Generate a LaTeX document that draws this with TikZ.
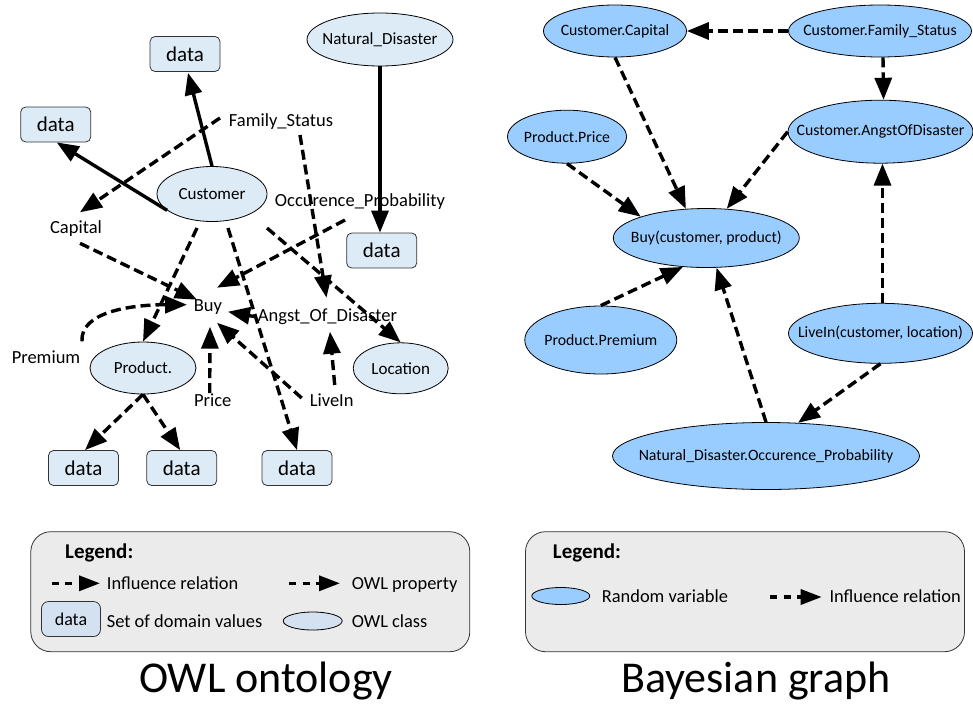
\documentclass[tikz,border=0pt]{standalone}
\usepackage{fontspec}
\setmainfont{Carlito}
\usetikzlibrary{arrows.meta,shapes.geometric,calc}
\definecolor{lblue}{HTML}{DDEBF7}
\definecolor{rblue}{HTML}{99CCFF}
\definecolor{leggray}{HTML}{EBEBEB}
\definecolor{legblue}{HTML}{D3E1F1}
\newcommand\mkzw[1]{\makebox[0pt]{#1}}
\tikzset{
 lbl/.style={anchor=base, inner sep=0pt, font=\fontsize{18.5}{20}\selectfont},
 cls/.style={ellipse, draw=black, line width=0.8pt, fill=lblue, inner sep=0pt, font=\fontsize{17}{19}\selectfont},
 databox/.style={rectangle, rounded corners=5pt, draw=black!80, line width=0.8pt, fill=lblue, minimum width=70pt, minimum height=35pt, inner sep=0pt, font=\fontsize{21}{24}\selectfont},
 rv/.style={ellipse, draw=black, line width=0.8pt, fill=rblue, inner sep=0pt, font=\fontsize{15.8}{18}\selectfont},
 solidarr/.style={line width=3.4pt, -{Triangle[length=22pt,width=17pt]}},
 dasharr/.style={line width=3.4pt, dash pattern=on 10pt off 5pt, -{Triangle[length=22pt,width=17pt]}},
 legarr/.style={line width=3.4pt, dash pattern=on 7pt off 6.5pt, -{Triangle[length=21pt,width=15pt]}},
 legbox/.style={rectangle, rounded corners=20pt, draw=black!80, line width=0.8pt, fill=leggray, minimum width=439pt, minimum height=120pt, inner sep=0pt},
 legtxt/.style={anchor=base west, inner sep=0pt, font=\fontsize{18.4}{20}\selectfont},
 legbold/.style={anchor=base west, inner sep=0pt, font=\fontsize{21}{24}\selectfont\bfseries},
 titletxt/.style={anchor=base, inner sep=0pt, font=\fontsize{44}{50}\selectfont},
}
\begin{document}
\begin{tikzpicture}[x=1pt,y=-1pt]
\useasboundingbox (0,0) rectangle (973,707);

% ---------------- Left: OWL ontology ----------------
\node[databox] (d1) at (185,54) {data};
\node[databox] (d2) at (55.7,124.5) {data};
\node[cls, minimum width=146pt, minimum height=53pt] (nd) at (380,39.5) {\mkzw{Natural\_Disaster}};
\node[cls, minimum width=110pt, minimum height=55pt] (c) at (212,194) {\mkzw{Customer}};
\node[databox] (d3) at (381.7,250.5) {data};
\node[cls, minimum width=106pt, minimum height=52pt] (prod) at (143,368) {\mkzw{Product.}};
\node[cls, minimum width=95pt, minimum height=51pt] (loc) at (400.7,368.3) {\mkzw{Location}};
\node[databox] (d4) at (83.5,468) {data};
\node[databox] (d5) at (181.7,468) {data};
\node[databox] (d6) at (297,468) {data};

\node[lbl] (fs) at (281,126) {Family\_Status};
\node[lbl] (cap) at (76,233.3) {Capital};
\node[lbl] (occ) at (360,206) {Occurence\_Probability};
\node[lbl] (buy) at (208,311.7) {Buy};
\node[lbl] (angst) at (327.5,321.7) {Angst\_Of\_Disaster};
\node[lbl] (prem) at (46,363.3) {Premium};
\node[lbl] (price) at (212.7,406) {Price};
\node[lbl] (livein) at (331.7,406) {LiveIn};

% solid arrows
\draw[solidarr] (c.north) -- ($(d1.south)+(3,1)$);
\draw[solidarr] (c.200) -- ($(d2.south)+(1,0)$);
\draw[solidarr] (nd.south) -- (nd.south |- d3.north);

% dashed arrows
\draw[dasharr] ($(fs.base)+(-61,-8)$) -- ($(cap.base)+(4,-21)$);
\draw[dasharr] ($(fs.base)+(19,9)$) -- ($(angst.base)+(-1,-24)$);
\draw[dasharr] ($(occ.base)+(-15,14)$) -- ($(buy.base)+(9,-24)$);
\draw[dasharr] ($(cap.base)+(4,10)$) -- ($(buy.base)+(-11,-12)$);
\draw[dasharr] ($(prem.base)+(36,-22)$) .. controls ($(prem.base)+(34,-51)$) and ($(buy.base)+(-78,-7)$) .. ($(buy.base)+(-21,-7)$);
\draw[dasharr] ($(angst.base)+(-72.5,-5)$) -- ($(buy.base)+(20,0)$);
\draw[dasharr] ($(price.base)+(-3,-13)$) -- ($(buy.base)+(2,15)$);
\draw[dasharr] ($(livein.base)+(-30,-8)$) -- ($(buy.base)+(9,11)$);
\draw[dasharr] ($(livein.base)+(3,-21)$) -- ($(angst.base)+(2.5,10)$);
\draw[dasharr] ($(c)+(-15,34)$) -- (prod.north);
\draw[dasharr] ($(c)+(16,34)$) -- (d6.north);
\draw[dasharr] ($(c)+(55,34)$) -- (loc.north);
\draw[dasharr] (prod.south) -- ($(d4.north)+(1.5,0)$);
\draw[dasharr] (prod.south) -- ($(d5.north)+(-1.5,0)$);

% ---------------- Right: Bayesian graph ----------------
\node[rv, minimum width=143pt, minimum height=52pt] (cc) at (615,31) {\mkzw{Customer.Capital}};
\node[rv, minimum width=183pt, minimum height=52pt] (cfs) at (880,31) {\mkzw{Customer.Family\_Status}};
\node[rv, minimum width=119pt, minimum height=53pt] (pp) at (567,136.7) {\mkzw{Product.Price}};
\node[rv, minimum width=185pt, minimum height=63pt] (ca) at (880.5,131.7) {\mkzw{Customer.AngstOfDisaster}};
\node[rv, minimum width=186pt, minimum height=59pt] (buyr) at (706.3,238) {\mkzw{Buy(customer, product)}};
\node[rv, minimum width=152pt, minimum height=68pt] (pprem) at (600.8,340) {\mkzw{Product.Premium}};
\node[rv, minimum width=184pt, minimum height=60pt] (li) at (880.5,333.3) {\mkzw{LiveIn(customer, location)}};
\node[rv, minimum width=307pt, minimum height=67pt] (nocc) at (766,456) {\mkzw{Natural\_Disaster.Occurence\_Probability}};

\draw[dasharr] (cfs.west) -- (cc.east);
\draw[dasharr] ($(cfs.south)+(3,0)$) -- ($(ca.north)+(3,0)$);
\draw[dasharr] (cc.south) -- (buyr.125);
\draw[dasharr] (ca.west) -- (buyr.55);
\draw[dasharr] (pp.south) -- (buyr.162);
\draw[dasharr] (pprem.north) -- (buyr.231);
\draw[dasharr] (nocc.north) -- (buyr.-71);
\draw[dasharr] (li.south) -- (nocc.46);
\draw[dasharr] ($(li.north)+(2,0)$) -- ($(ca.south)+(2,0)$);

% ---------------- Legends ----------------
\node[legbox] (leg1) at (250.3,591.7) {};
\node[legbold] (lg1) at (65,558) {Legend:};
\coordinate (la1) at (51.7,583.3);
\coordinate (la2) at (100,583.3);
\draw[legarr] (la1) -- (la2);
\node[legtxt] (lt1) at (106.7,589.5) {Influence relation};
\coordinate (lb1) at (289,583.3);
\coordinate (lb2) at (340,583.3);
\draw[legarr] (lb1) -- (lb2);
\node[legtxt] (lt2) at (351.7,589.5) {OWL property};
\node[databox, minimum width=59pt, rounded corners=7pt, fill=legblue, font=\fontsize{18}{20}\selectfont] (ld) at (71,619) {data};
\node[legtxt] (lt3) at (106.7,627) {Set of domain values};
\node[ellipse, draw=black, line width=0.8pt, fill=legblue, minimum width=59pt, minimum height=18pt, inner sep=0pt] (le) at (312.7,621) {};
\node[legtxt] (lt4) at (351.7,627) {OWL class};
\node[titletxt] (t1) at (266,692) {OWL ontology};

\node[legbox] (leg2) at (745,591.7) {};
\node[legbold] (lg2) at (552.7,558) {Legend:};
\node[ellipse, draw=black, line width=0.8pt, fill=rblue, minimum width=58pt, minimum height=17pt, inner sep=0pt] (re) at (560.8,596) {};
\node[legtxt] (rt1) at (601.7,602.5) {Random variable};
\coordinate (ra1) at (770,597);
\coordinate (ra2) at (821.7,597);
\draw[legarr] (ra1) -- (ra2);
\node[legtxt] (rt2) at (829.3,602.5) {Influence relation};
\node[titletxt] (t2) at (755.8,692) {Bayesian graph};
\end{tikzpicture}
\end{document}
